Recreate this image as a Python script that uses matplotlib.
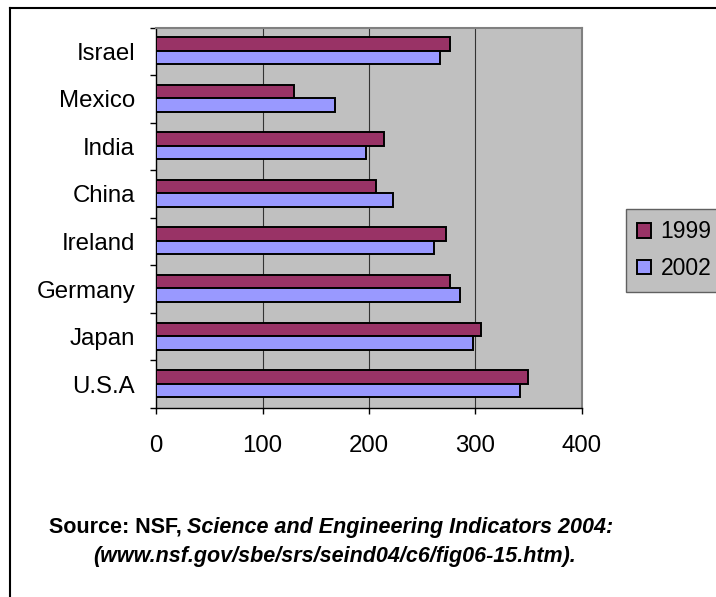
import matplotlib
matplotlib.use('Agg')
import matplotlib.pyplot as plt
import numpy as np
from matplotlib.lines import Line2D
from matplotlib.patches import Patch

plt.rcParams['font.family'] = ['Liberation Sans', 'DejaVu Sans']

# countries listed bottom-to-top
countries = ['U.S.A', 'Japan', 'Germany', 'Ireland', 'China', 'India', 'Mexico', 'Israel']
vals_1999 = [349, 305, 276, 272, 207, 214, 130, 276]
vals_2002 = [342, 298, 285, 261, 223, 197, 168, 267]
years = ['1999', '2002']
colors = ['#993366', '#9999FF']
xticks = [0, 100, 200, 300, 400]

W, H = 716, 597
fig = plt.figure(figsize=(W / 100, H / 100), dpi=100)
ax = fig.add_axes([156 / W, 1 - 408 / H, 426 / W, 380.5 / H])
ax.set_facecolor('#C0C0C0')

y = np.arange(len(countries))
bh = 0.285
ax.barh(y + 0.155, vals_1999, height=bh, color=colors[0], edgecolor='black', linewidth=1.4, zorder=3)
ax.barh(y - 0.13, vals_2002, height=bh, color=colors[1], edgecolor='black', linewidth=1.4, zorder=3)

ax.set_xlim(0, 400)
ax.set_ylim(-0.5, len(countries) - 0.5)
ax.set_xticks(xticks)
ax.set_xticklabels([str(v) for v in xticks], fontsize=17.3)
ax.tick_params(axis='x', direction='out', length=4.5, width=1, pad=15)

# category boundaries carry the tick marks, names sit on minor ticks
ax.set_yticks(np.arange(-0.5, len(countries), 1.0))
ax.set_yticklabels([])
ax.set_yticks(y, minor=True)
ax.set_yticklabels(countries, minor=True, fontsize=17.3)
ax.tick_params(axis='y', which='major', direction='out', length=4.5, width=1)
ax.tick_params(axis='y', which='minor', length=0, pad=15)

for v in xticks[1:-1]:
    ax.axvline(v, color='#333333', linewidth=0.8, zorder=1)

for s in ['top', 'right']:
    ax.spines[s].set_color('#808080')
    ax.spines[s].set_linewidth(1.5)
for s in ['left', 'bottom']:
    ax.spines[s].set_color('black')
    ax.spines[s].set_linewidth(1)

handles = [Patch(facecolor=c, edgecolor='black', linewidth=1.4) for c in colors]
fig.legend(handles, years, loc='upper left', bbox_to_anchor=(626 / W, 1 - 209 / H),
           fontsize=16.5, frameon=True, fancybox=False, facecolor='#C0C0C0',
           edgecolor='#606060', framealpha=1, borderaxespad=0, borderpad=0.5,
           handlelength=0.6, handleheight=0.6, handletextpad=0.4, labelspacing=0.6)

# outer frame around the whole chart
fig.add_artist(Line2D([9.5 / W, 9.5 / W], [0, 1 - 7.5 / H], transform=fig.transFigure,
                      color='black', linewidth=1.5))
fig.add_artist(Line2D([9.5 / W, 1], [1 - 7.5 / H, 1 - 7.5 / H], transform=fig.transFigure,
                      color='black', linewidth=1.5))

# source note: plain bold lead-in followed by bold italic title, line centred
fs = 15.5
fig.canvas.draw()
r = fig.canvas.get_renderer()
t1 = fig.text(0, 1 - 533 / H, 'Source: NSF,', fontsize=fs, weight='bold', va='baseline')
t2 = fig.text(0, 1 - 533 / H, 'Science and Engineering Indicators 2004:',
              fontsize=fs, weight='bold', style='italic', va='baseline')
w1 = t1.get_window_extent(r).width
w2 = t2.get_window_extent(r).width
gap = 6
x0 = 331 - (w1 + gap + w2) / 2
t1.set_x(x0 / W)
t2.set_x((x0 + w1 + gap) / W)
fig.text(335 / W, 1 - 562 / H, '(www.nsf.gov/sbe/srs/seind04/c6/fig06-15.htm).',
         fontsize=fs, weight='bold', style='italic', va='baseline', ha='center')

fig.savefig('out.png', dpi=100)
